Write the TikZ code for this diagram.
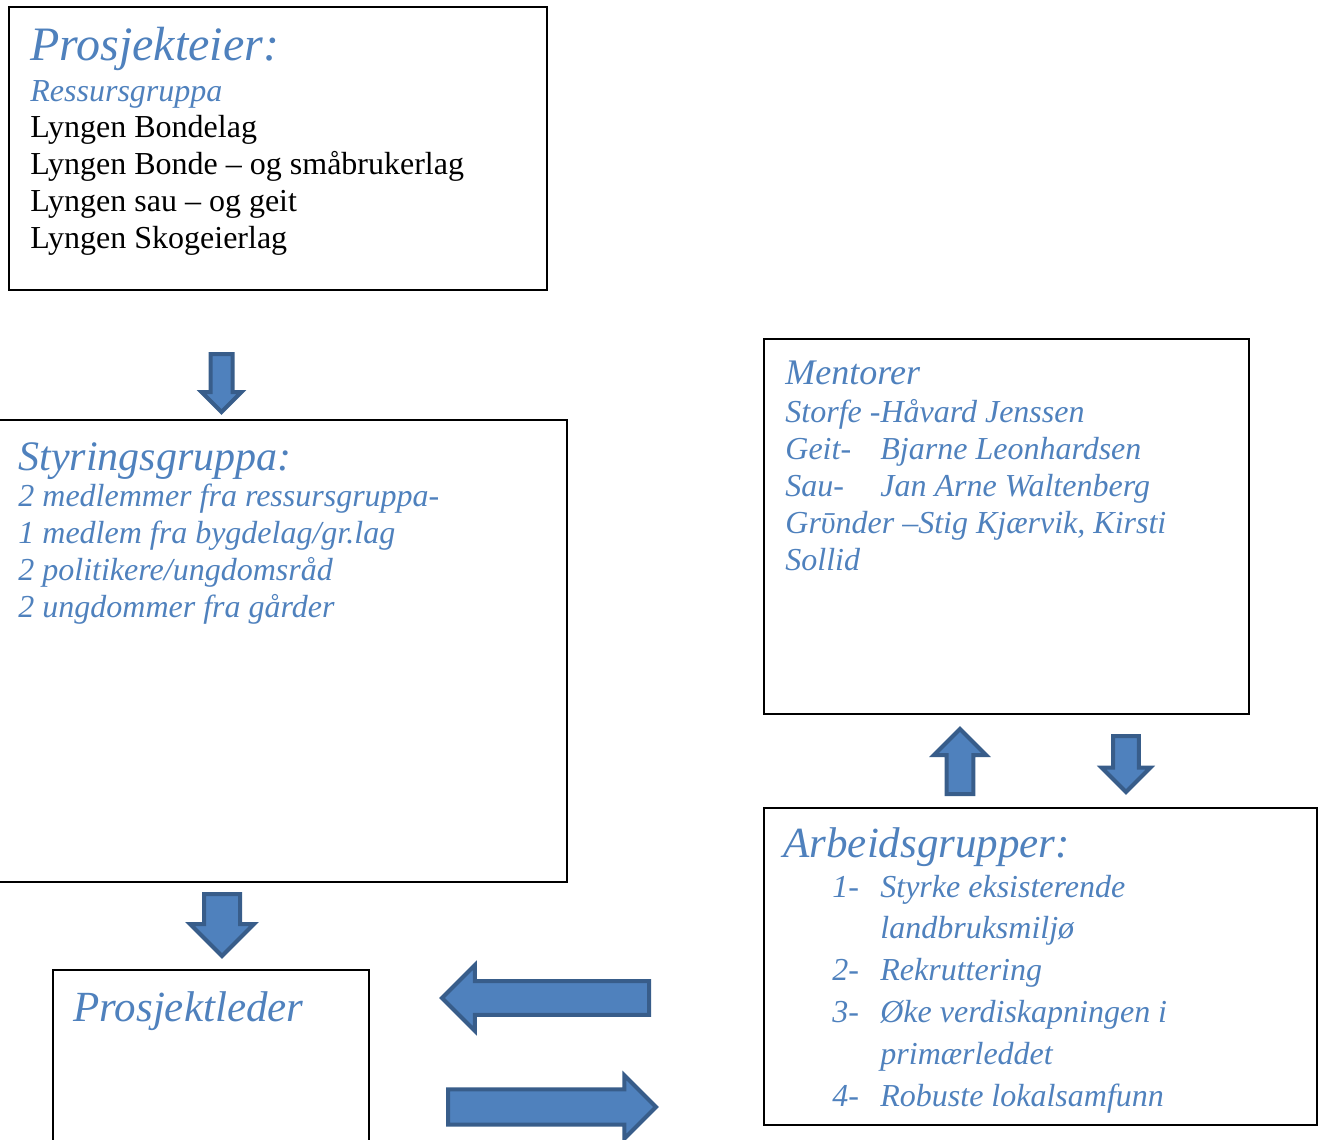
\documentclass[tikz,border=0pt]{standalone}
\usepackage{fontspec}
\setmainfont{Liberation Serif}
\usepackage{xcolor}
\usepackage{tikz}
\usetikzlibrary{shapes.arrows,fit}

\definecolor{wordblue}{HTML}{4F81BD}
\definecolor{arrowline}{HTML}{385D8A}

\newcommand{\bodyfont}{\fontsize{16}{18.35}\selectfont}
\newcommand{\listfont}{\fontsize{16}{20.9}\selectfont}

\begin{document}
\begin{tikzpicture}[
  x=0.5pt, y=-0.5pt,
  box/.style={draw, line width=0.8pt, inner sep=0pt},
  title/.style={anchor=base west, inner sep=0pt, text=wordblue, font=\itshape},
  body/.style={anchor=base west, inner sep=0pt, align=left, font=\bodyfont},
  blockarr/.style n args={3}{single arrow, draw=arrowline, fill=wordblue,
    line width=2pt, single arrow tip angle=90, inner xsep=0pt,
    minimum height=#1, inner ysep=#2, single arrow head extend=#3}
]
  \useasboundingbox (0,0) rectangle (1318,1140);

  % boxes
  \node[box, fit={(9,7) (547,290)}] (eier) {};
  \node[box, fit={(-5,420) (567,882)}] (styr) {};
  \node[box, fit={(764,339) (1249,714)}] (ment) {};
  \node[box, fit={(764,808) (1317,1125)}] (arb) {};
  \node[box, fit={(53,970) (369,1170)}] (leder) {};

  % texts (body nodes sit on the baseline of their last line)
  \node[title, font=\itshape\fontsize{24}{27}\selectfont] (eiertitle) at (30,61) {Prosjekteier:};
  \node[body] (eiertxt) at (30,248) {\textcolor{wordblue}{\itshape Ressursgruppa}\\
    Lyngen Bondelag\\
    Lyngen Bonde – og småbrukerlag\\
    Lyngen sau – og geit\\
    Lyngen Skogeierlag};

  \node[title, font=\itshape\fontsize{21}{24}\selectfont] (styrtitle) at (18,470) {Styringsgruppa:};
  \node[body, text=wordblue, font=\bodyfont\itshape] (styrtxt) at (18,617) {2 medlemmer fra ressursgruppa-\\
    1 medlem fra bygdelag/gr.lag\\
    2 politikere/ungdomsråd\\
    2 ungdommer fra gårder};

  \node[title, font=\itshape\fontsize{18}{21}\selectfont] (menttitle) at (785,384) {Mentorer};
  \node[body, text=wordblue, font=\fontsize{16}{18.5}\selectfont\itshape] (menttxt) at (785,570) {Storfe -Håvard Jenssen\\
    \makebox[47.5pt][l]{Geit-}Bjarne Leonhardsen\\
    \makebox[47.5pt][l]{Sau-}Jan Arne Waltenberg\\
    Grῡnder –Stig Kjærvik, Kirsti\\
    Sollid};

  \node[title, font=\itshape\fontsize{21.5}{24}\selectfont] (arbtitle) at (783,857) {Arbeidsgrupper:};
  \node[body, text=wordblue, font=\listfont\itshape] (arbtxt) at (832,1106) {\makebox[24pt][l]{1-}Styrke eksisterende\\
    \hspace*{24pt}landbruksmiljø\\
    \makebox[24pt][l]{2-}Rekruttering\\
    \makebox[24pt][l]{3-}Øke verdiskapningen i\\
    \hspace*{24pt}primærleddet\\
    \makebox[24pt][l]{4-}Robuste lokalsamfunn};

  \node[title, font=\itshape\fontsize{21.5}{24}\selectfont] (ledertitle) at (73,1021) {Prosjektleder};

  % block arrows
  \node[blockarr={29pt}{4.5pt}{4.5pt}, rotate=-90, anchor=tail] (a1) at (221.5,352) {};
  \node[blockarr={31pt}{8pt}{7pt}, rotate=-90, anchor=tail] (a2) at (222,892) {};
  \node[blockarr={32.5pt}{5.7pt}{6.3pt}, rotate=90, anchor=tail] (a3) at (960,796) {};
  \node[blockarr={28pt}{5.4pt}{5.8pt}, rotate=-90, anchor=tail] (a4) at (1126,734) {};
  \node[blockarr={103.5pt}{7.4pt}{8pt}, rotate=180, anchor=tail] (a5) at (651,998) {};
  \node[blockarr={104pt}{7.8pt}{7pt}, anchor=tail] (a6) at (446,1107) {};
\end{tikzpicture}
\end{document}
